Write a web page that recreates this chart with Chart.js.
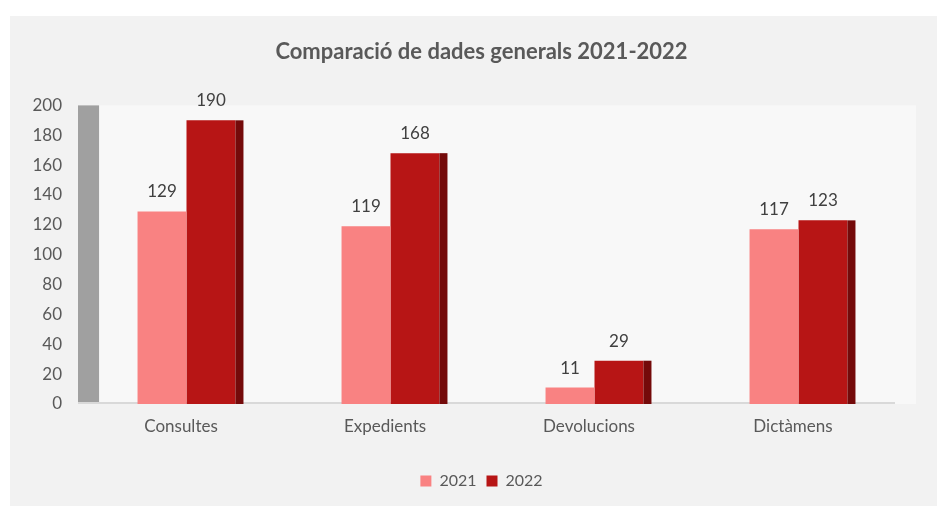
<!DOCTYPE html>
<html lang="ca">
<head>
<meta charset="UTF-8">
<title>Comparació de dades generals 2021-2022</title>
<script src="https://cdn.jsdelivr.net/npm/chart.js"></script>
<style>
  html, body { margin: 0; padding: 0; background: #ffffff; }
  #wrap { width: 937px; height: 506px; }
</style>
</head>
<body>
<div id="wrap"><canvas id="dadesChart" width="937" height="506"></canvas></div>
<script>
// chart data
var categories = ['Consultes', 'Expedients', 'Devolucions', 'Dictàmens'];
var seriesNames = ['2021', '2022'];
var values2021 = [129, 119, 11, 117];
var values2022 = [190, 168, 29, 123];
var yTicks = [0, 20, 40, 60, 80, 100, 120, 140, 160, 180, 200];

var FONT = 'Lato, "Open Sans", sans-serif';
var DEPTH = 21; // fake 3d depth of the walls

// frame, walls, floor behind the bars
var backdrop = {
    id: 'backdrop',
    beforeDraw: function(chart) {
        var ctx = chart.ctx, a = chart.chartArea;
        ctx.save();
        ctx.fillStyle = '#ffffff';
        ctx.fillRect(0, 0, chart.width, chart.height);
        ctx.fillStyle = '#f2f2f2';
        ctx.fillRect(10, 16, chart.width - 10, chart.height - 16);
        // back wall
        ctx.fillStyle = '#f8f8f8';
        ctx.fillRect(a.left + DEPTH, a.top, a.right - a.left, a.bottom - a.top);
        // side wall
        ctx.fillStyle = '#a0a0a0';
        ctx.fillRect(a.left - 1, a.top, DEPTH, a.bottom - a.top - 1);
        // floor
        ctx.fillStyle = '#d9d9d9';
        ctx.fillRect(a.left - 1, a.bottom - 2, a.right - a.left + 1, 2);
        ctx.restore();
    },
    afterDatasetsUpdate: function(chart) {
        // bars sit a little right of the category centre, like the 3d original
        chart.data.datasets.forEach(function(ds, i) {
            chart.getDatasetMeta(i).data.forEach(function(el) { el.x += 5.5; });
        });
    }
};

// dark side of the 2022 bars and value labels
var barExtras = {
    id: 'barExtras',
    afterDatasetsDraw: function(chart) {
        var ctx = chart.ctx;
        ctx.save();
        var meta22 = chart.getDatasetMeta(1);
        meta22.data.forEach(function(el) {
            ctx.fillStyle = '#740a0a';
            ctx.fillRect(el.x + el.width / 2, el.y, 8, el.base - el.y);
        });
        ctx.font = '17px ' + FONT;
        ctx.fillStyle = '#404040';
        ctx.textAlign = 'center';
        ctx.textBaseline = 'bottom';
        chart.data.datasets.forEach(function(ds, i) {
            chart.getDatasetMeta(i).data.forEach(function(el, j) {
                ctx.fillText(ds.data[j], el.x, el.y - 11);
            });
        });
        ctx.restore();
    }
};

var ctx = document.getElementById('dadesChart').getContext('2d');
var myChart = new Chart(ctx, {
    type: 'bar',
    data: {
        labels: categories,
        datasets: [{
            label: seriesNames[0],
            data: values2021,
            backgroundColor: '#f98282',
            borderWidth: 0
        }, {
            label: seriesNames[1],
            data: values2022,
            backgroundColor: '#b71515',
            borderWidth: 0
        }]
    },
    options: {
        responsive: false,
        animation: false,
        layout: { padding: { left: 26, right: 0, top: 0, bottom: 7 } },
        datasets: { bar: { categoryPercentage: 0.48, barPercentage: 1 } },
        scales: {
            x: {
                grid: { display: false, drawTicks: false },
                border: { display: false },
                ticks: { color: '#595959', font: { family: FONT, size: 17 }, padding: 12 },
                afterFit: function(scale) { scale.height = 59; }
            },
            y: {
                min: 0,
                max: 200,
                afterBuildTicks: function(scale) {
                    scale.ticks = yTicks.map(function(v) { return { value: v }; });
                },
                grid: { display: false, drawTicks: false },
                border: { display: false },
                ticks: { color: '#595959', font: { family: FONT, size: 17 }, padding: 17 },
                afterFit: function(scale) { scale.width = 53; }
            },
            yRight: {
                position: 'right',
                grid: { display: false, drawTicks: false },
                border: { display: false },
                ticks: { display: false },
                afterFit: function(scale) { scale.width = 42; }
            }
        },
        plugins: {
            title: {
                display: true,
                text: 'Comparació de dades generals 2021-2022',
                color: '#595959',
                font: { family: FONT, size: 22, weight: 'bold' },
                padding: { top: 39, bottom: 40 }
            },
            legend: {
                position: 'bottom',
                labels: {
                    color: '#595959',
                    font: { family: FONT, size: 16 },
                    boxWidth: 11,
                    boxHeight: 11,
                    padding: 10
                }
            },
            tooltip: { enabled: false }
        }
    },
    plugins: [backdrop, barExtras]
});
</script>
</body>
</html>
